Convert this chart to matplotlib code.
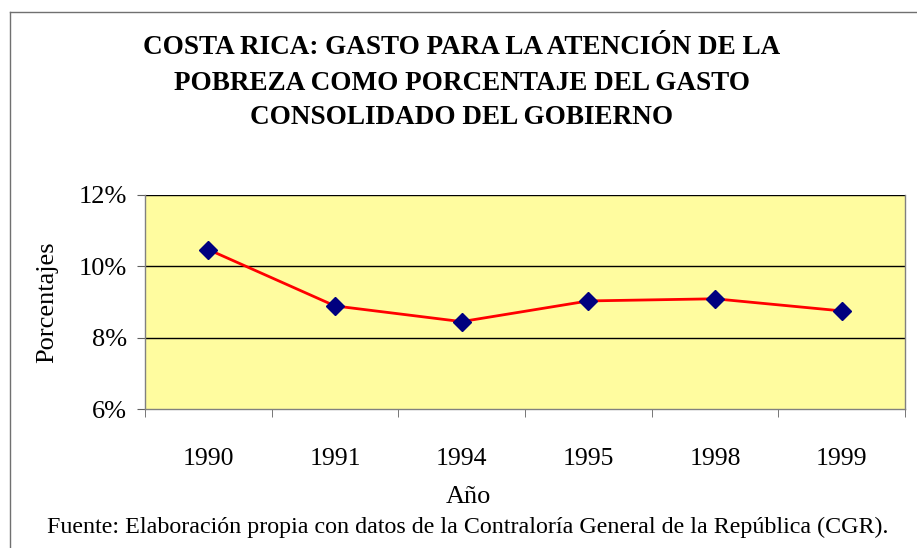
import matplotlib
matplotlib.use('Agg')
from matplotlib import pyplot as plt
from matplotlib.lines import Line2D
from matplotlib.ticker import FixedLocator

years = ['1990', '1991', '1994', '1995', '1998', '1999']
gasto_pct = [10.47, 8.89, 8.45, 9.03, 9.09, 8.75]
y_ticks = [6, 8, 10, 12]

plt.rcParams['font.family'] = ['Liberation Serif', 'DejaVu Serif']

W, H = 917, 548
fig = plt.figure(figsize=(W / 100, H / 100), dpi=100)

# plot area in pixel coords
left, right, top, bottom = 145, 905, 195, 409
ax = fig.add_axes([left / W, 1 - bottom / H, (right - left) / W, (bottom - top) / H])
ax.set_facecolor('#FFFC9F')

x = list(range(len(years)))
ax.plot(x, gasto_pct, color='#FF0000', linewidth=2, marker='D', markersize=9,
        markerfacecolor='#00007F', markeredgecolor='#00007F', zorder=3)

ax.set_xlim(-0.5, len(years) - 0.5)
ax.set_ylim(6, 12)
ax.set_yticks(y_ticks)
ax.set_yticklabels([f'{v}%' for v in y_ticks], fontsize=19)
for v in y_ticks[1:]:
    ax.axhline(v, color='black', linewidth=1, zorder=1)

ax.set_xticks(x)
ax.set_xticklabels(years, fontsize=18.5)
ax.xaxis.set_minor_locator(FixedLocator([i - 0.5 for i in range(len(years) + 1)]))
ax.tick_params(axis='x', which='major', length=0, pad=28)
ax.tick_params(axis='x', which='minor', length=6, color='#606060', direction='out')
ax.tick_params(axis='y', length=6, color='#606060', direction='out', pad=7)

for s in ['left', 'bottom', 'right']:
    ax.spines[s].set_color('#808080')
    ax.spines[s].set_linewidth(1)
ax.spines['top'].set_visible(False)

fig.text(47 / W, 1 - 302 / H, 'Porcentajes', rotation=90, ha='center', va='center',
         fontsize=19)
fig.text(468 / W, 1 - 497 / H, 'Año', ha='center', va='center', fontsize=19)
fig.text(468 / W, 1 - 527 / H,
         'Fuente: Elaboración propia con datos de la Contraloría General de la República (CGR).',
         ha='center', va='center', fontsize=17.3)

title_lines = ['COSTA RICA: GASTO PARA LA ATENCIÓN DE LA',
               'POBREZA COMO PORCENTAJE DEL GASTO',
               'CONSOLIDADO DEL GOBIERNO']
for i, t in enumerate(title_lines):
    fig.text(462 / W, 1 - (48 + 35 * i) / H, t, ha='center', va='center',
             fontsize=19.5, fontweight='bold')

# outer chart frame (left and top edges visible)
fig.add_artist(Line2D([10 / W, 10 / W], [0, 1 - 12 / H], color='#707070', linewidth=1))
fig.add_artist(Line2D([10 / W, 1], [1 - 12 / H, 1 - 12 / H], color='#707070', linewidth=1))

fig.savefig('out.png', dpi=100)
plt.close(fig)
